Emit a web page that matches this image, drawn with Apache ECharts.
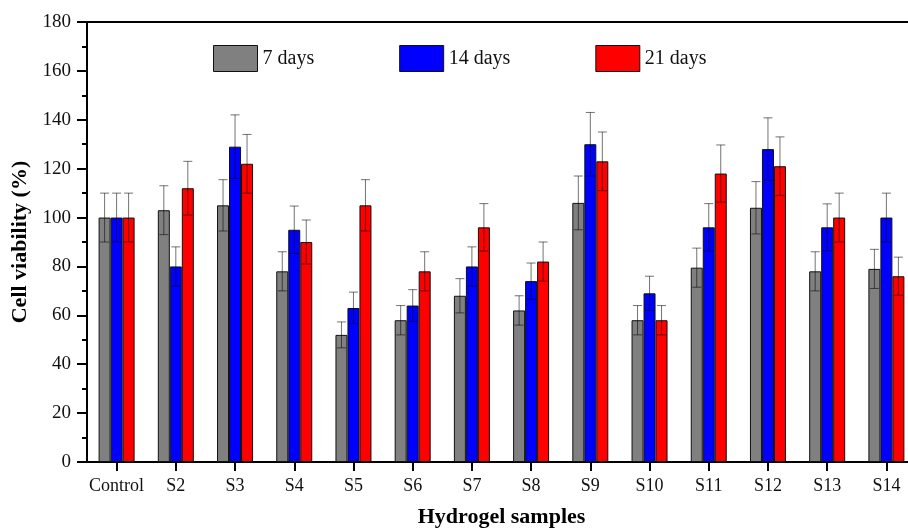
<!DOCTYPE html>
<html>
<head>
<meta charset="utf-8">
<script src="https://cdn.jsdelivr.net/npm/echarts@6/dist/echarts.min.js"></script>
<style>html,body{margin:0;padding:0;background:#fff}#c{width:908px;height:530px}</style>
</head>
<body>
<div id="c"></div>
<script>
const categories = ['Control','S2','S3','S4','S5','S6','S7','S8','S9','S10','S11','S12','S13','S14'];
const seriesNames = ['7 days','14 days','21 days'];
const values7  = [100, 103, 105, 78, 52, 58, 68, 62, 106, 58, 79.5, 104, 78, 79];
const errors7  = [10, 10, 10.5, 8, 5.3, 6, 7, 6, 11, 6, 8, 10.7, 8, 8];
const values14 = [100, 80, 129, 95, 63, 64, 80, 74, 130, 69, 96, 128, 96, 100];
const errors14 = [10, 8, 13, 9.7, 6.5, 6.5, 8, 7.4, 13, 7, 9.7, 12.8, 9.6, 10];
const values21 = [100, 112, 122, 90, 105, 78, 96, 82, 123, 58, 118, 121, 100, 76];
const errors21 = [10, 11, 12, 9, 10.5, 8, 9.7, 8, 12, 6, 11.7, 12, 10, 7.8];
const yTicks = [0, 20, 40, 60, 80, 100, 120, 140, 160, 180];

const colors = ['#808080', '#0000ff', '#ff0000'];
const BAR_W = 12;
const FONT = '"Liberation Serif", "Times New Roman", serif';

const allValues = [values7, values14, values21];
const allErrors = [errors7, errors14, errors21];

const chart = echarts.init(document.getElementById('c'), null, {renderer: 'canvas'});

const barSeries = seriesNames.map((n, k) => ({
  name: n,
  type: 'bar',
  data: allValues[k],
  barWidth: BAR_W,
  barGap: '0%',
  itemStyle: {color: colors[k], borderColor: '#111', borderWidth: 1},
  z: 2
}));

const errSeries = seriesNames.map((n, k) => ({
  type: 'custom',
  name: n + ' err',
  data: allValues[k].map((v, i) => [i, v, allErrors[k][i]]),
  z: 5,
  silent: true,
  renderItem: function (params, api) {
    const i = api.value(0), v = api.value(1), e = api.value(2);
    const off = (k - 1) * BAR_W;
    const top = api.coord([i, v + e]);
    const bot = api.coord([i, v - e]);
    const x = top[0] + off;
    const cw = 4.5;
    const style = {stroke: 'rgba(0,0,0,0.55)', lineWidth: 1};
    return {
      type: 'group',
      children: [
        {type: 'line', shape: {x1: x, y1: top[1], x2: x, y2: bot[1]}, style: style},
        {type: 'line', shape: {x1: x - cw, y1: top[1], x2: x + cw, y2: top[1]}, style: style},
        {type: 'line', shape: {x1: x - cw, y1: bot[1], x2: x + cw, y2: bot[1]}, style: style}
      ]
    };
  }
}));

const option = {
  animation: false,
  backgroundColor: '#fff',
  textStyle: {fontFamily: FONT},
  grid: {left: 87, top: 22, width: 829, height: 440, outerBoundsMode: 'none', containLabel: false, show: false},
  legend: {
    data: seriesNames,
    left: 213, top: 45, padding: 0,
    itemWidth: 44, itemHeight: 26, itemGap: 85,
    icon: 'rect',
    textStyle: {fontFamily: FONT, fontSize: 20, color: '#111'},
    itemStyle: {borderColor: '#111', borderWidth: 1}
  },
  xAxis: [{
    type: 'category',
    data: categories,
    name: 'Hydrogel samples',
    nameLocation: 'middle',
    nameGap: 44,
    nameTextStyle: {fontFamily: FONT, fontSize: 22, fontWeight: 'bold', color: '#000'},
    axisLine: {lineStyle: {color: '#000', width: 2}},
    axisTick: {show: true, alignWithLabel: true, interval: 0, length: 9, lineStyle: {color: '#000', width: 2}},
    axisLabel: {fontFamily: FONT, fontSize: 18, color: '#111', margin: 15, interval: 0},
    splitLine: {show: false}
  }, {
    type: 'category',
    data: categories,
    position: 'top',
    axisLine: {show: true, lineStyle: {color: '#000', width: 2}},
    axisTick: {show: false},
    axisLabel: {show: false},
    splitLine: {show: false}
  }],
  yAxis: {
    type: 'value',
    min: yTicks[0], max: yTicks[yTicks.length - 1], interval: yTicks[1] - yTicks[0],
    name: 'Cell viability (%)',
    nameLocation: 'middle',
    nameGap: 53,
    nameTextStyle: {fontFamily: FONT, fontSize: 22, fontWeight: 'bold', color: '#000'},
    axisLine: {show: true, lineStyle: {color: '#000', width: 2}},
    axisTick: {show: true, length: 10, lineStyle: {color: '#000', width: 2}},
    minorTick: {show: true, splitNumber: 2, length: 5, lineStyle: {color: '#000', width: 2}},
    axisLabel: {fontFamily: FONT, fontSize: 19, color: '#111', margin: 16},
    splitLine: {show: false}
  },
  series: barSeries.concat(errSeries)
};
chart.setOption(option);
</script>
</body>
</html>
